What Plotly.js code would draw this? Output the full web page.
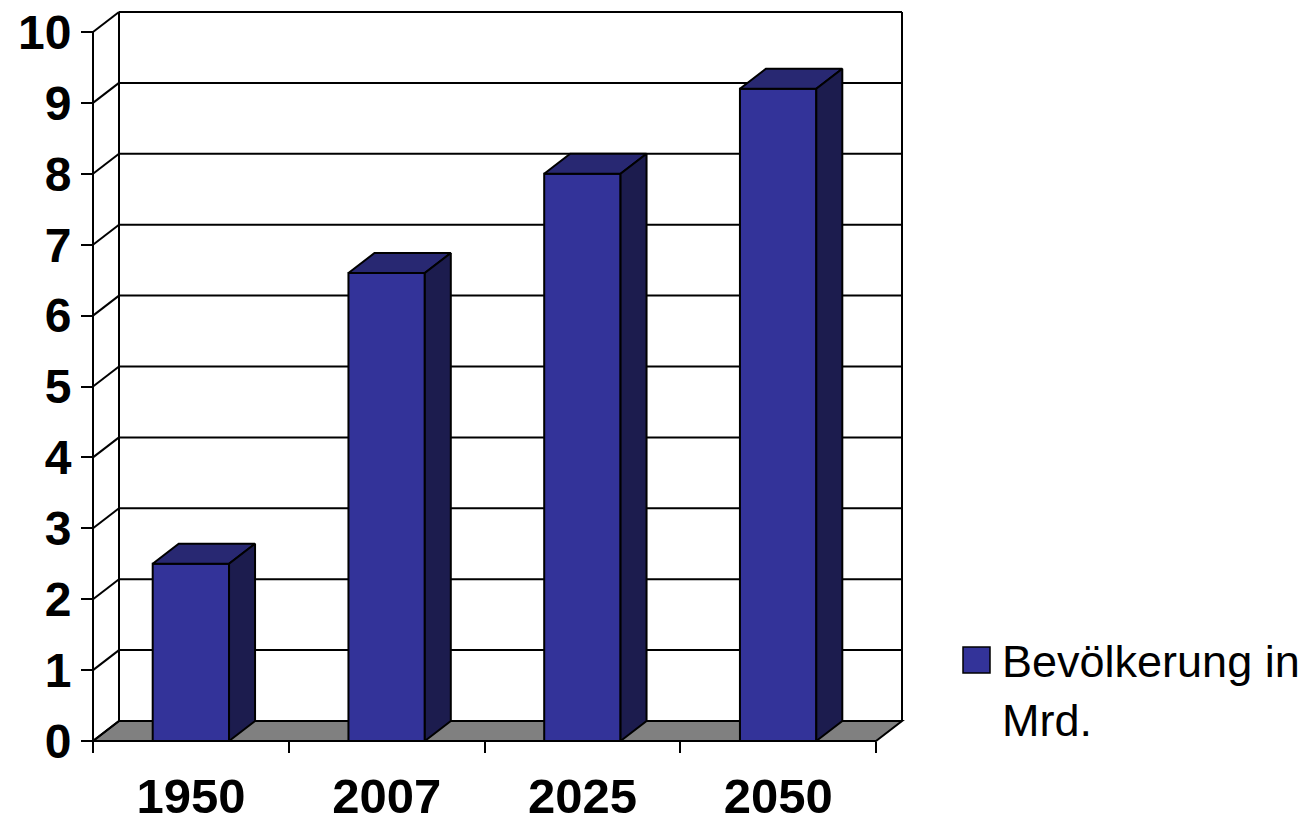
<!DOCTYPE html>
<html>
<head>
<meta charset="utf-8">
<script src="https://cdn.plot.ly/plotly-3.0.1.min.js"></script>
<style>html,body{margin:0;padding:0;background:#fff;}#chart{width:1310px;height:822px;}</style>
</head>
<body>
<div id="chart"></div>
<script>
// ---- data ----
const categories = ['1950', '2007', '2025', '2050'];
const values = [2.5, 6.6, 8.0, 9.2];
const yTicks = [0, 1, 2, 3, 4, 5, 6, 7, 8, 9, 10];
const seriesName = 'Bevölkerung in Mrd.';

// ---- geometry (pixels) ----
const W = 1310, H = 822;
const frontLeft = 93, frontRight = 876, zeroY = 741, topY = 32;
const depthPxX = 26, depthPxY = 20, pad = 4;
const nCat = categories.length;
const yMax = yTicks[yTicks.length - 1];
const unitX = (frontRight - frontLeft) / nCat;
const unitY = (zeroY - topY) / yMax;
const dX = depthPxX / unitX, dY = depthPxY / unitY;
const barW = 0.39;

const plotL = frontLeft - pad, plotR = frontRight + depthPxX + pad;
const plotT = topY - depthPxY - pad, plotB = zeroY + pad;
const xLo = -0.5, xHi = nCat - 0.5;

const FRONT = '#333399', TOP = '#282872', SIDE = '#1c1c4e', FLOOR = '#808080';
const FONT = 'Arial, "Liberation Sans", sans-serif';

const xIdx = categories.map((c, i) => i);

const traces = [];
// front faces
traces.push({
  type: 'bar', x: xIdx, y: values, width: barW, name: seriesName,
  marker: {color: FRONT, line: {color: '#000', width: 2}},
  hoverinfo: 'skip', showlegend: false
});
// top & side faces
values.forEach((v, i) => {
  const x0 = i - barW / 2, x1 = i + barW / 2;
  traces.push({
    type: 'scatter', mode: 'lines', fill: 'toself', fillcolor: TOP,
    x: [x0, x1, x1 + dX, x0 + dX, x0], y: [v, v, v + dY, v + dY, v],
    line: {color: '#000', width: 2}, hoverinfo: 'skip', showlegend: false
  });
  traces.push({
    type: 'scatter', mode: 'lines', fill: 'toself', fillcolor: SIDE,
    x: [x1, x1 + dX, x1 + dX, x1, x1], y: [0, dY, v + dY, v, 0],
    line: {color: '#000', width: 2}, hoverinfo: 'skip', showlegend: false
  });
});

// frame shapes (below traces)
const shapes = [];
const L = (x0, y0, x1, y1) => ({type: 'line', xref: 'x', yref: 'y', x0, y0, x1, y1,
  line: {color: '#000', width: 2}, layer: 'below'});
// floor
shapes.push({type: 'path', xref: 'x', yref: 'y', layer: 'below',
  path: `M${xLo},0 L${xHi},0 L${xHi + dX},${dY} L${xLo + dX},${dY} Z`,
  fillcolor: FLOOR, line: {color: '#000', width: 2}});
yTicks.forEach(v => {
  if (v > 0) shapes.push(L(xLo + dX, v + dY, xHi + dX, v + dY));
  shapes.push(L(xLo, v, xLo + dX, v + dY));
});
shapes.push(L(xLo + dX, dY, xLo + dX, yMax + dY));
shapes.push(L(xHi + dX, dY, xHi + dX, yMax + dY));
shapes.push(L(xLo, 0, xLo, yMax));

// legend (manual)
const pw = plotR - plotL, ph = plotB - plotT;
const xp = px => (px - plotL) / pw, yp = py => (plotB - py) / ph;
shapes.push({type: 'rect', xref: 'paper', yref: 'paper', layer: 'above',
  x0: xp(963), x1: xp(990), y0: yp(673), y1: yp(647),
  fillcolor: FRONT, line: {color: '#000', width: 1.5}});

const layout = {
  width: W, height: H,
  margin: {l: plotL, r: W - plotR, t: plotT, b: H - plotB, pad: 0},
  paper_bgcolor: '#fff', plot_bgcolor: 'rgba(0,0,0,0)',
  showlegend: false, bargap: 0,
  font: {family: FONT, color: '#000'},
  xaxis: {
    range: [xLo - pad / unitX, xHi + dX + pad / unitX],
    anchor: 'free', position: pad / ph,
    tickmode: 'array', tickvals: xIdx, ticktext: categories,
    ticks: '', showgrid: false, zeroline: false, showline: false,
    tickfont: {family: FONT, size: 49, weight: 'bold', color: '#000'},
    ticklabelstandoff: 22,
    minor: {tickmode: 'array', tickvals: [...xIdx.map(i => i - 0.5), xHi],
      ticks: 'outside', ticklen: 11, tickwidth: 2, tickcolor: '#000', showgrid: false},
    fixedrange: true
  },
  yaxis: {
    range: [-pad / unitY, yMax + dY + pad / unitY],
    anchor: 'free', position: pad / pw,
    tickmode: 'array', tickvals: yTicks, ticktext: yTicks.map(String),
    ticks: 'outside', ticklen: 12, tickwidth: 2, tickcolor: '#000',
    showgrid: false, zeroline: false, showline: false,
    tickfont: {family: FONT, size: 48, weight: 'bold', color: '#000'},
    fixedrange: true
  },
  shapes: shapes,
  annotations: [{
    xref: 'paper', yref: 'paper', x: xp(1000), y: yp(634), xanchor: 'left', yanchor: 'top',
    align: 'left', showarrow: false,
    text: seriesName.replace(' Mrd.', '<br>Mrd.'),
    font: {family: FONT, size: 45, color: '#000'}
  }]
};

Plotly.newPlot('chart', traces, layout, {displayModeBar: false, staticPlot: true});
</script>
</body>
</html>
